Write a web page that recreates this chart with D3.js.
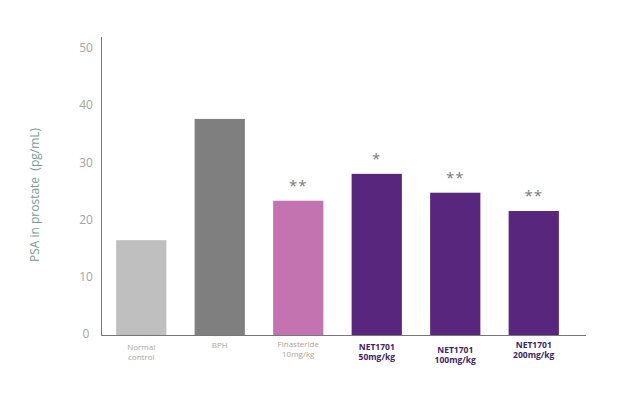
<!DOCTYPE html>
<html lang="en">

<head>
    <meta charset="utf-8">
    <script src='https://d3js.org/d3.v7.min.js'></script>
    <style>
        body { margin: 0; background: #fff; }
        text { font-family: "Open Sans", "Noto Sans", sans-serif; }
    </style>
</head>

<body>
</body>

<script>

    // chart data
    const groups = ["Normal control", "BPH", "Finasteride 10mg/kg", "NET1701 50mg/kg", "NET1701 100mg/kg", "NET1701 200mg/kg"];
    const groupLines = [["Normal", "control"], ["BPH"], ["Finasteride", "10mg/kg"], ["NET1701", "50mg/kg"], ["NET1701", "100mg/kg"], ["NET1701", "200mg/kg"]];
    const psaValues = [16.4, 37.6, 23.3, 28.0, 24.7, 21.5];
    const marks = ["", "", "**", "*", "**", "**"];
    const yTicks = [0, 10, 20, 30, 40, 50];

    const barColors = ["#bfbfbf", "#7f7f7f", "#c373b0", "#58267c", "#58267c", "#58267c"];
    const labelColors = ["#a6a6a6", "#a6a6a6", "#b3a18f", "#3d2466", "#3d2466", "#3d2466"];
    // label baselines wander a little in the original
    const labelY = [350, 348, 347, 350, 353, 348];

    const width = 629;
    const height = 398;

    var svg = d3.select("body")
                    .append("svg")
                    .attr("width", width)
                    .attr("height", height);

    var x = d3.scaleBand()
                .domain(groups)
                .range([102, 573])
                .paddingInner(0.36)
                .paddingOuter(0.18);

    var y = d3.scaleLinear()
                .domain([0, 50])
                .range([334, 48]);

    // axes lines
    svg.append("line")
        .attr("x1", 101.5).attr("x2", 101.5)
        .attr("y1", 37).attr("y2", 335)
        .attr("stroke", "#777").attr("stroke-width", 1);

    svg.append("line")
        .attr("x1", 101).attr("x2", 586)
        .attr("y1", 335.5).attr("y2", 335.5)
        .attr("stroke", "#777").attr("stroke-width", 1);

    // y tick labels
    svg.selectAll(".ytick")
        .data(yTicks)
        .enter()
        .append("text")
        .attr("class", "ytick")
        .attr("x", 86)
        .attr("y", function (d) { return y(d); })
        .attr("dy", ".35em")
        .style("text-anchor", "middle")
        .style("font-size", "12px")
        .attr("fill", "#a8a29c")
        .text(function (d) { return d; });

    // y axis title
    svg.append("text")
        .attr("transform", "translate(39,195) rotate(-90)")
        .style("text-anchor", "middle")
        .style("font-size", "12px")
        .attr("fill", "#7d9a98")
        .attr("xml:space", "preserve")
        .text("PSA in prostate  (pg/mL)");

    // bars
    svg.selectAll(".bar")
        .data(psaValues)
        .enter()
        .append("rect")
        .attr("class", "bar")
        .attr("x", function (d, i) { return x(groups[i]); })
        .attr("y", function (d) { return y(d); })
        .attr("width", x.bandwidth())
        .attr("height", function (d) { return y(0) - y(d) + 1; })
        .attr("fill", function (d, i) { return barColors[i]; });

    // significance marks
    svg.selectAll(".mark")
        .data(psaValues)
        .enter()
        .append("text")
        .attr("class", "mark")
        .attr("x", function (d, i) { return x(groups[i]) + x.bandwidth() / 2; })
        .attr("y", function (d) { return y(d) - 10; })
        .style("text-anchor", "middle")
        .style("font-size", "15px")
        .style("letter-spacing", "1px")
        .attr("fill", "#7a7a7a")
        .text(function (d, i) { return marks[i]; });

    // category labels
    var lab = svg.selectAll(".cat")
                .data(groupLines)
                .enter()
                .append("text")
                .attr("class", "cat")
                .attr("x", function (d, i) { return x(groups[i]) + x.bandwidth() / 2; })
                .attr("y", function (d, i) { return labelY[i]; })
                .style("text-anchor", "middle")
                .style("font-size", function (d, i) { return i >= 3 ? "8.5px" : "8px"; })
                .style("font-weight", function (d, i) { return i >= 3 ? "bold" : "normal"; })
                .attr("fill", function (d, i) { return labelColors[i]; });

    lab.selectAll("tspan")
        .data(function (d) { return d; })
        .enter()
        .append("tspan")
        .attr("x", function () { return d3.select(this.parentNode).attr("x"); })
        .attr("dy", function (d, j) { return j === 0 ? 0 : 10; })
        .text(function (d) { return d; });

</script>

</html>
